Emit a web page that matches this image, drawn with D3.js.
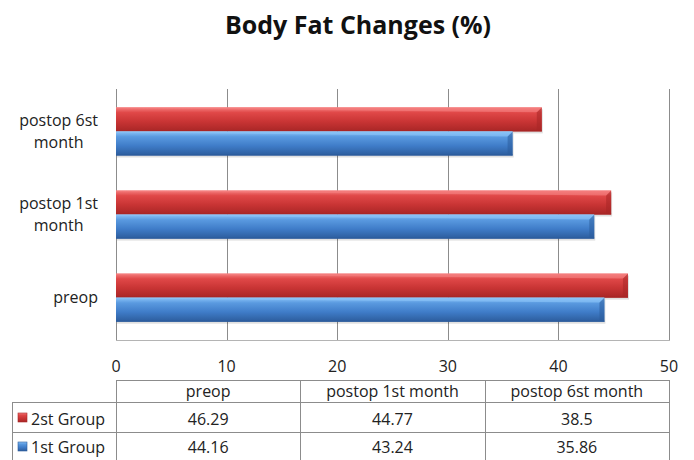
<!DOCTYPE html>
<html><head><meta charset="utf-8">
<script src="https://cdn.jsdelivr.net/npm/d3@7"></script>
<style>
html,body{margin:0;padding:0;background:#fff;}
svg{display:block;font-family:"Open Sans",sans-serif;}
</style></head>
<body>
<svg id="chart" width="694" height="460"></svg>
<script>
const title = "Body Fat Changes (%)";
const categories = ["preop", "postop 1st month", "postop 6st month"];
const categoryLines = [["preop"], ["postop 1st", "month"], ["postop 6st", "month"]];
const seriesNames = ["2st Group", "1st Group"];
const group2 = [46.29, 44.77, 38.5];
const group1 = [44.16, 43.24, 35.86];
const tableText2 = ["46.29", "44.77", "38.5"];
const tableText1 = ["44.16", "43.24", "35.86"];
const xTicks = [0, 10, 20, 30, 40, 50];

const FS = 16;
const svg = d3.select("#chart");
const plot = {left: 116, right: 669, top: 89, bottom: 340};

const x = d3.scaleLinear().domain([0, 50]).range([plot.left, plot.right]);
const yOrder = categories.slice().reverse(); // top to bottom
const y = d3.scaleBand().domain(yOrder).range([plot.top, plot.bottom]).paddingInner(0.42).paddingOuter(0.22);
const ySub = d3.scaleBand().domain(seriesNames).range([0, y.bandwidth()]);

// gradients
const defs = svg.append("defs");
const palettes = {
  "2st Group": ["#f58080", "#e04848", "#c83434", "#a82626"],
  "1st Group": ["#8cc4f8", "#5a9ae0", "#3f7cc8", "#2c5c9c"]
};
const ids = {};
seriesNames.forEach((s, i) => {
  const id = "g" + i; ids[s] = id;
  const g = defs.append("linearGradient").attr("id", id).attr("x1", 0).attr("y1", 0).attr("x2", 0).attr("y2", 1);
  const c = palettes[s];
  g.append("stop").attr("offset", "0%").attr("stop-color", c[0]);
  g.append("stop").attr("offset", "22%").attr("stop-color", c[1]);
  g.append("stop").attr("offset", "60%").attr("stop-color", c[2]);
  g.append("stop").attr("offset", "100%").attr("stop-color", c[3]);
});

// title
svg.append("text").attr("x", 358).attr("y", 34).attr("text-anchor", "middle")
  .attr("font-size", 25).attr("font-weight", "bold").attr("fill", "#111").text(title);

// gridlines
svg.append("g").selectAll("line").data(xTicks.filter(d => d > 0)).join("line")
  .attr("x1", d => Math.round(x(d)) + 0.5).attr("x2", d => Math.round(x(d)) + 0.5)
  .attr("y1", plot.top).attr("y2", plot.bottom)
  .attr("stroke", "#8c8c8c").attr("stroke-width", 1);
svg.append("line").attr("x1", plot.left + 0.5).attr("x2", plot.left + 0.5)
  .attr("y1", plot.top).attr("y2", plot.bottom).attr("stroke", "#8c8c8c");
svg.append("line").attr("x1", plot.left).attr("x2", plot.right + 1)
  .attr("y1", plot.bottom + 0.5).attr("y2", plot.bottom + 0.5).attr("stroke", "#b4b4b4");

// bars
const rows = [];
categories.forEach((c, i) => {
  rows.push({cat: c, series: "2st Group", v: group2[i]});
  rows.push({cat: c, series: "1st Group", v: group1[i]});
});
const barG = svg.append("g");
rows.forEach(d => {
  const y0 = y(d.cat) + ySub(d.series);
  const h = ySub.bandwidth();
  const x0 = x(0), x1 = x(d.v);
  barG.append("rect").attr("x", x0 + 1).attr("y", y0 + 2).attr("width", x1 - x0).attr("height", h)
    .attr("fill", "#000").attr("opacity", 0.12);
  barG.append("rect").attr("x", x0).attr("y", y0).attr("width", x1 - x0).attr("height", h)
    .attr("fill", `url(#${ids[d.series]})`);
  const c = palettes[d.series];
  const b = 5;
  barG.append("polygon")
    .attr("points", `${x1 - b},${y0 + b} ${x1},${y0} ${x1},${y0 + h} ${x1 - b},${y0 + h - 1}`)
    .attr("fill", c[3]).attr("opacity", 0.55);
  barG.append("polygon")
    .attr("points", `${x1 - b},${y0 + b} ${x1},${y0} ${x0},${y0} ${x0},${y0 + 1}`)
    .attr("fill", c[0]).attr("opacity", 0.6);
  barG.append("line").attr("x1", x0).attr("x2", x1).attr("y1", y0 + h - 0.5).attr("y2", y0 + h - 0.5)
    .attr("stroke", c[3]).attr("stroke-width", 1);
});

// tick labels
svg.append("g").selectAll("text").data(xTicks).join("text")
  .attr("x", d => x(d)).attr("y", 372).attr("text-anchor", "middle")
  .attr("font-size", FS).attr("fill", "#222").text(d => d);

// category labels
const labRight = 98;
categories.forEach((c, i) => {
  const lines = categoryLines[i];
  const g = svg.append("g");
  const ts = lines.map(l => g.append("text").attr("font-size", FS).attr("fill", "#222")
    .attr("text-anchor", "middle").text(l));
  const w = d3.max(ts, t => t.node().getComputedTextLength());
  const cx = labRight - w / 2;
  const cy = y(c) + y.bandwidth() / 2;
  const lh = 22;
  ts.forEach((t, j) => {
    t.attr("x", cx).attr("y", cy + (j - (lines.length - 1) / 2) * lh + 5.5);
  });
});

// data table
const colX = categories.map((c, i) => plot.left + (plot.right - plot.left) * i / categories.length);
const colW = (plot.right - plot.left) / categories.length;
const tTop = 380, r1 = 402, r2 = 432, r3 = 461;
const tbl = svg.append("g").attr("stroke", "#8c8c8c").attr("stroke-width", 1);
tbl.append("line").attr("x1", plot.left).attr("x2", plot.right).attr("y1", tTop + 0.5).attr("y2", tTop + 0.5);
tbl.append("line").attr("x1", 12).attr("x2", plot.right).attr("y1", r1 + 0.5).attr("y2", r1 + 0.5);
tbl.append("line").attr("x1", 12).attr("x2", plot.right).attr("y1", r2 + 0.5).attr("y2", r2 + 0.5);
tbl.append("line").attr("x1", 12.5).attr("x2", 12.5).attr("y1", r1).attr("y2", r3);
[plot.left, ...colX.slice(1), plot.right].forEach(xx => {
  tbl.append("line").attr("x1", Math.round(xx) + 0.5).attr("x2", Math.round(xx) + 0.5)
    .attr("y1", tTop).attr("y2", r3);
});
const ttext = svg.append("g").attr("font-size", FS).attr("fill", "#222").attr("text-anchor", "middle");
categories.forEach((c, i) => {
  ttext.append("text").attr("x", colX[i] + colW / 2).attr("y", 396.5).text(c);
  ttext.append("text").attr("x", colX[i] + colW / 2).attr("y", 424.5).text(tableText2[i]);
  ttext.append("text").attr("x", colX[i] + colW / 2).attr("y", 453).text(tableText1[i]);
});
// legend keys
[[seriesNames[0], 424.5, 413], [seriesNames[1], 453, 442]].forEach(([s, ty, ky]) => {
  svg.append("rect").attr("x", 18).attr("y", ky).attr("width", 9).attr("height", 9)
    .attr("fill", `url(#${ids[s]})`).attr("stroke", palettes[s][3]).attr("stroke-width", 0.6);
  svg.append("text").attr("x", 31).attr("y", ty).attr("font-size", FS).attr("fill", "#222").text(s);
});
</script>
</body></html>
